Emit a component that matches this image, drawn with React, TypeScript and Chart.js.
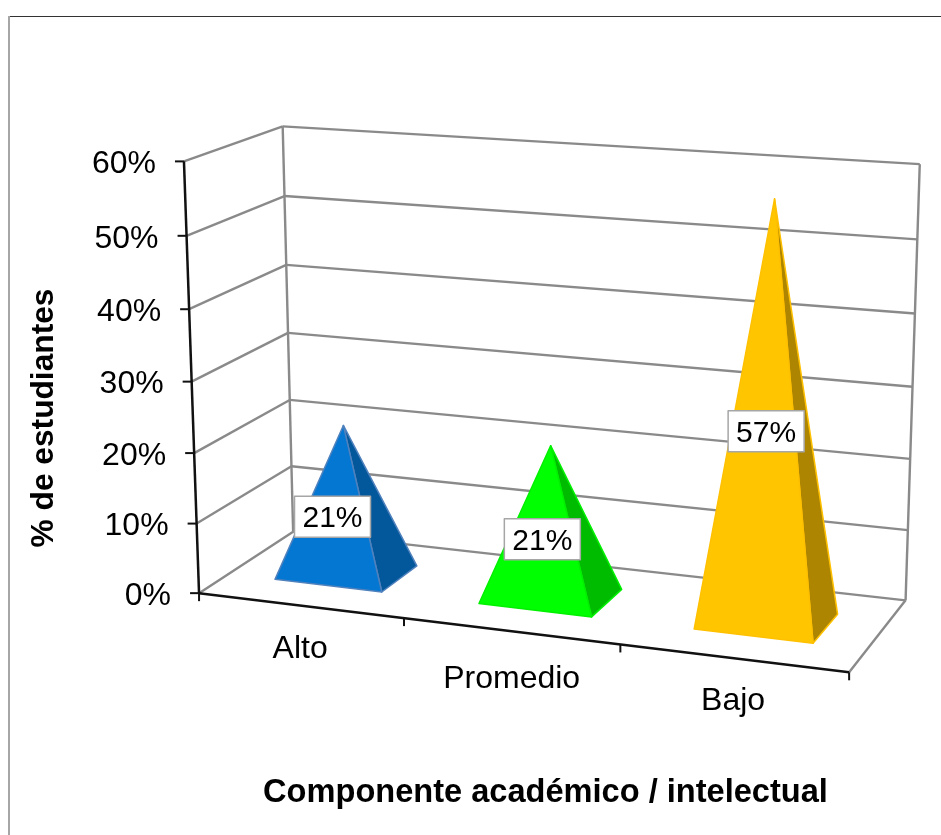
import React, { useEffect, useRef } from "react";
import { Chart, registerables } from "chart.js";

Chart.register(...registerables);

const categories = ["Alto", "Promedio", "Bajo"];
const values = [21.4, 21.4, 57.1];
const valueLabels = ["21%", "21%", "57%"];
const frontColors = ["#0477D2", "#00FF00", "#FFC600"];
const sideColors = ["#03589B", "#00BC00", "#AD8500"];
const edgeColors = ["#4F81BD", "#00F000", "#FFC000"];
const xTitle = "Componente académico / intelectual";
const yTitle = "% de estudiantes";
const FONT = '"Liberation Sans", Arial, sans-serif';

// Camera calibration of the 3D box: [u, v, w, screenX, screenY]
const calibration: number[][] = [
  [0, 0, 0, 199.5, 593], [0, 1, 0, 184, 162], [0, 0.5, 0, 191, 381],
  [0, 0, 1, 293, 532], [0, 1, 1, 283, 126], [0, 0.5, 1, 288, 333],
  [1, 0, 1, 905.7, 600], [1, 1, 1, 920, 164], [1, 0.5, 1, 912, 387],
  [1, 0, 0, 849.3, 672.5],
];

function solve(A: number[][], b: number[]): number[] {
  const n = b.length;
  const M = A.map((r, i) => [...r, b[i]]);
  for (let c = 0; c < n; c++) {
    let p = c;
    for (let r = c + 1; r < n; r++) if (Math.abs(M[r][c]) > Math.abs(M[p][c])) p = r;
    [M[c], M[p]] = [M[p], M[c]];
    for (let r = 0; r < n; r++) {
      if (r === c) continue;
      const f = M[r][c] / M[c][c];
      for (let k = c; k <= n; k++) M[r][k] -= f * M[c][k];
    }
  }
  return M.map((r, i) => r[n] / r[i]);
}

function fitCamera() {
  const rows: number[][] = [];
  const rhs: number[] = [];
  for (const [u, v, w, x0, y0] of calibration) {
    const x = x0 / 1000, y = y0 / 1000;
    rows.push([u, v, w, 1, 0, 0, 0, 0, -x * u, -x * v, -x * w]); rhs.push(x);
    rows.push([0, 0, 0, 0, u, v, w, 1, -y * u, -y * v, -y * w]); rhs.push(y);
  }
  const N = 11;
  const AtA = Array.from({ length: N }, () => new Array(N).fill(0));
  const Atb = new Array(N).fill(0);
  rows.forEach((r, i) => {
    for (let a = 0; a < N; a++) {
      Atb[a] += r[a] * rhs[i];
      for (let b = 0; b < N; b++) AtA[a][b] += r[a] * r[b];
    }
  });
  const p = solve(AtA, Atb);
  return (u: number, v: number, w: number): [number, number] => {
    const d = p[8] * u + p[9] * v + p[10] * w + 1;
    return [
      (1000 * (p[0] * u + p[1] * v + p[2] * w + p[3])) / d,
      (1000 * (p[4] * u + p[5] * v + p[6] * w + p[7])) / d,
    ];
  };
}

const project = fitCamera();
const DEPTH_FRONT = 0.3;
const DEPTH_BACK = 0.71;

const scene3d = {
  id: "scene3d",
  afterDatasetsDraw(chart: any) {
    const { ctx, chartArea: a, scales } = chart;
    const yS = scales.y;
    const toU = (px: number) => (px - a.left) / (a.right - a.left);
    const toV = (py: number) => (a.bottom - py) / (a.bottom - a.top);
    const line = (p: [number, number], q: [number, number], color: string, width: number) => {
      ctx.beginPath();
      ctx.moveTo(p[0], p[1]);
      ctx.lineTo(q[0], q[1]);
      ctx.strokeStyle = color;
      ctx.lineWidth = width;
      ctx.stroke();
    };
    ctx.save();
    ctx.lineCap = "butt";

    // walls and gridlines
    const GRID = "#8A8A8A";
    const GW = 2.4;
    for (const t of yS.ticks) {
      const v = toV(yS.getPixelForValue(t.value));
      line(project(0, v, 0), project(0, v, 1), GRID, GW);
      line(project(0, v, 1), project(1, v, 1), GRID, GW);
    }
    line(project(0, 0, 1), project(0, 1, 1), GRID, GW);
    line(project(1, 0, 1), project(1, 1, 1), GRID, GW);
    line(project(1, 0, 0), project(1, 0, 1), GRID, GW);

    // axes
    const AXIS = "#111111";
    line(project(0, 0, 0), project(0, 1, 0), AXIS, 2.5);
    line(project(0, 0, 0), project(1, 0, 0), AXIS, 2.5);
    ctx.fillStyle = "#000";
    ctx.textBaseline = "middle";
    ctx.font = `32px ${FONT}`;
    for (const t of yS.ticks) {
      const v = toV(yS.getPixelForValue(t.value));
      const [x, y] = project(0, v, 0);
      line([x - 9, y], [x, y], AXIS, 2);
      ctx.textAlign = "right";
      ctx.fillText(t.label, x - 28, y + 3);
    }
    const n = categories.length;
    for (let i = 0; i <= n; i++) {
      const [x, y] = project(i / n, 0, 0);
      line([x, y], [x, y + 8], AXIS, 2);
    }
    ctx.textAlign = "center";
    const labelDrop = [44, 48, 43];
    const labelShift = [0, 1, 0];
    categories.forEach((c, i) => {
      const [x, y] = project((i + 0.5) / n, 0, 0);
      ctx.fillText(c, x + labelShift[i], y + labelDrop[i]);
    });

    // pyramids
    const meta = chart.getDatasetMeta(0);
    meta.data.forEach((bar: any, i: number) => {
      const uc = toU(bar.x);
      const hu = bar.width / 2 / (a.right - a.left);
      const v = toV(bar.y);
      const fl = project(uc - hu, 0, DEPTH_FRONT);
      const fr = project(uc + hu, 0, DEPTH_FRONT);
      const br = project(uc + hu, 0, DEPTH_BACK);
      const apex = project(uc, v, (DEPTH_FRONT + DEPTH_BACK) / 2);
      const poly = (pts: [number, number][], fill: string) => {
        ctx.beginPath();
        pts.forEach((p, k) => (k ? ctx.lineTo(p[0], p[1]) : ctx.moveTo(p[0], p[1])));
        ctx.closePath();
        ctx.fillStyle = fill;
        ctx.fill();
        ctx.strokeStyle = edgeColors[i];
        ctx.lineWidth = 1.5;
        ctx.lineJoin = "round";
        ctx.stroke();
      };
      poly([fr, br, apex], sideColors[i]);
      poly([fl, fr, apex], frontColors[i]);
    });

    // value labels
    ctx.font = `30px ${FONT}`;
    meta.data.forEach((bar: any, i: number) => {
      const u = toU(bar.x);
      const [px, py] = project(u, toV(bar.y) / 2, 0.34);
      const x = px + 1.5 + 6 * u, y = py + 7.5;
      const w = 76, h = 41;
      ctx.fillStyle = "#FFFFFF";
      ctx.fillRect(x - w / 2, y - h / 2, w, h);
      ctx.strokeStyle = "#A6A6A6";
      ctx.lineWidth = 1.5;
      ctx.strokeRect(x - w / 2, y - h / 2, w, h);
      ctx.fillStyle = "#000";
      ctx.fillText(valueLabels[i], x, y + 2);
    });

    // titles
    ctx.font = `bold 32.6px ${FONT}`;
    ctx.fillText(xTitle, 545.5, 793);
    ctx.save();
    ctx.translate(44, 418);
    ctx.rotate(-Math.PI / 2);
    ctx.font = `bold 31.7px ${FONT}`;
    ctx.fillText(yTitle, 0, 0);
    ctx.restore();

    // outer frame
    line([9, 16.5], [941, 16.5], "#333333", 1);
    line([9, 16], [9, 835], "#A6A6A6", 2);
    ctx.restore();
  },
};

export default function App() {
  const ref = useRef<HTMLCanvasElement | null>(null);
  useEffect(() => {
    const chart = new Chart(ref.current!, {
      type: "bar",
      data: {
        labels: categories,
        datasets: [
          {
            data: values,
            backgroundColor: "rgba(0,0,0,0)",
            borderWidth: 0,
            barPercentage: 0.53,
            categoryPercentage: 1,
          },
        ],
      },
      options: {
        responsive: false,
        animation: false,
        layout: { padding: { left: 199.5, right: 91.7, top: 162, bottom: 242 } },
        plugins: { legend: { display: false }, tooltip: { enabled: false }, title: { display: false } },
        scales: {
          x: { display: false, offset: true },
          y: {
            display: false,
            min: 0,
            max: 60,
            ticks: { stepSize: 10, callback: (v: any) => `${v}%` },
          },
        },
      },
      plugins: [scene3d],
    } as any);
    return () => chart.destroy();
  }, []);
  return (
    <div style={{ position: "absolute", left: 0, top: 0, width: 941, height: 835, overflow: "hidden", background: "#fff" }}>
      <canvas ref={ref} width={941} height={835} style={{ display: "block" }} />
    </div>
  );
}
